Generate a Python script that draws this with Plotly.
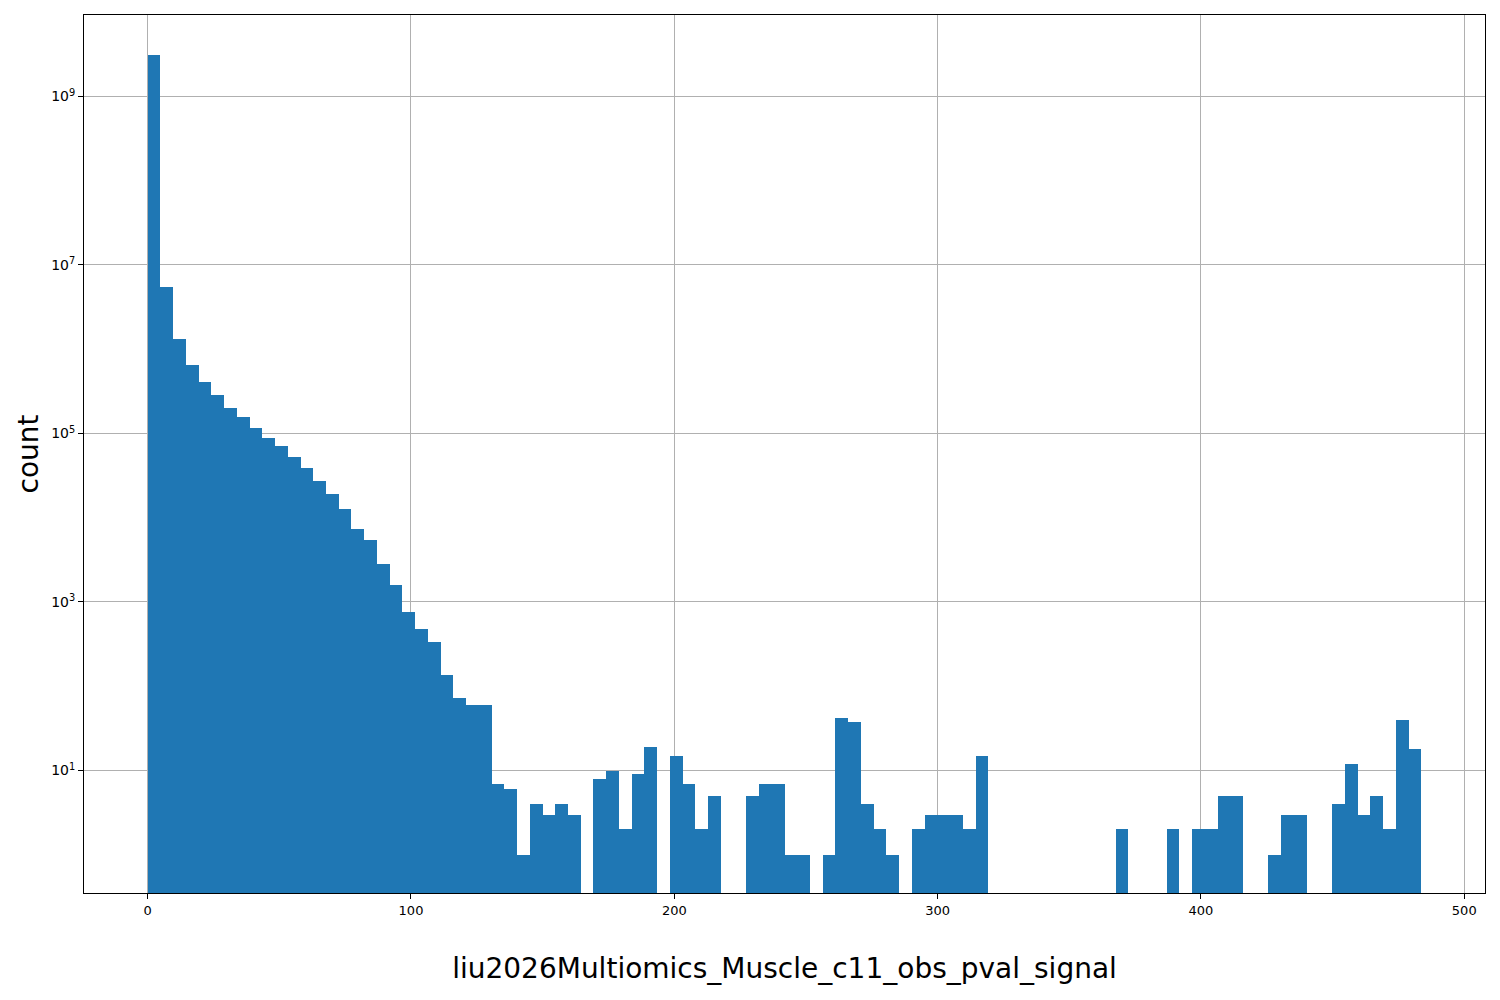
import numpy as np
import plotly.graph_objects as go

# Histogram of liu2026Multiomics_Muscle_c11_obs_pval_signal (100 bins, 0 .. 483.7)
bin_start = 0.0
bin_end = 483.7
n_bins = 100

counts = [
    3.1e9, 5.5e6, 1.32e6, 6.45e5, 4.03e5, 2.84e5, 2.03e5, 1.59e5, 1.17e5, 8.9e4,
    7.2e4, 5.3e4, 3.9e4, 2.7e4, 1.92e4, 1.28e4, 7400, 5400, 2830, 1590,
    770, 478, 337, 135, 72, 60, 60, 7, 6, 1,
    4, 3, 4, 3, 0, 8, 10, 2, 9, 19,
    0, 15, 7, 2, 5, 0, 0, 5, 7, 7,
    1, 1, 0, 1, 42, 38, 4, 2, 1, 0,
    2, 3, 3, 3, 2, 15, 0, 0, 0, 0,
    0, 0, 0, 0, 0, 0, 2, 0, 0, 0,
    2, 0, 2, 2, 5, 5, 0, 0, 1, 3,
    3, 0, 0, 4, 12, 3, 5, 2, 40, 18,
]

x_ticks = [0, 100, 200, 300, 400, 500]
y_ticks = [1e1, 1e3, 1e5, 1e7, 1e9]
y_tick_text = ["10<sup>1</sup>", "10<sup>3</sup>", "10<sup>5</sup>", "10<sup>7</sup>", "10<sup>9</sup>"]

x_title = "liu2026Multiomics_Muscle_c11_obs_pval_signal"
y_title = "count"

edges = np.linspace(bin_start, bin_end, n_bins + 1)
centers = (edges[:-1] + edges[1:]) / 2
width = edges[1] - edges[0]
y_vals = [c if c > 0 else None for c in counts]

fig = go.Figure()
fig.add_trace(go.Bar(
    x=centers, y=y_vals, width=width,
    marker=dict(color="#1f77b4", line=dict(width=0)),
    showlegend=False,
))

span = bin_end - bin_start
fig.update_layout(
    width=1500, height=1000,
    margin=dict(l=84, r=15, t=15, b=107),
    paper_bgcolor="white", plot_bgcolor="white",
    font=dict(family="DejaVu Sans", color="black"),
    bargap=0,
)
fig.update_xaxes(
    range=[bin_start - 0.05 * span, bin_end + 0.05 * span],
    tickvals=x_ticks, ticks="outside", ticklen=5, tickcolor="black",
    tickfont=dict(size=13),
    showgrid=True, gridcolor="#b0b0b0", gridwidth=1,
    showline=True, linecolor="black", linewidth=1, mirror=True,
    zeroline=False, layer="above traces",
    title=dict(text=x_title, font=dict(size=28), standoff=41),
)
fig.update_yaxes(
    type="log", range=[-0.454, 9.967],
    tickvals=y_ticks, ticktext=y_tick_text, ticks="outside", ticklen=5, tickcolor="black",
    tickfont=dict(size=14),
    showgrid=True, gridcolor="#b0b0b0", gridwidth=1,
    showline=True, linecolor="black", linewidth=1, mirror=True,
    zeroline=False, layer="above traces",
    title=dict(text=y_title, font=dict(size=28), standoff=4),
)

fig.write_html(
    "out.html",
    config={"displayModeBar": False},
    post_script="document.body.style.margin='0';document.body.style.padding='0';",
)
